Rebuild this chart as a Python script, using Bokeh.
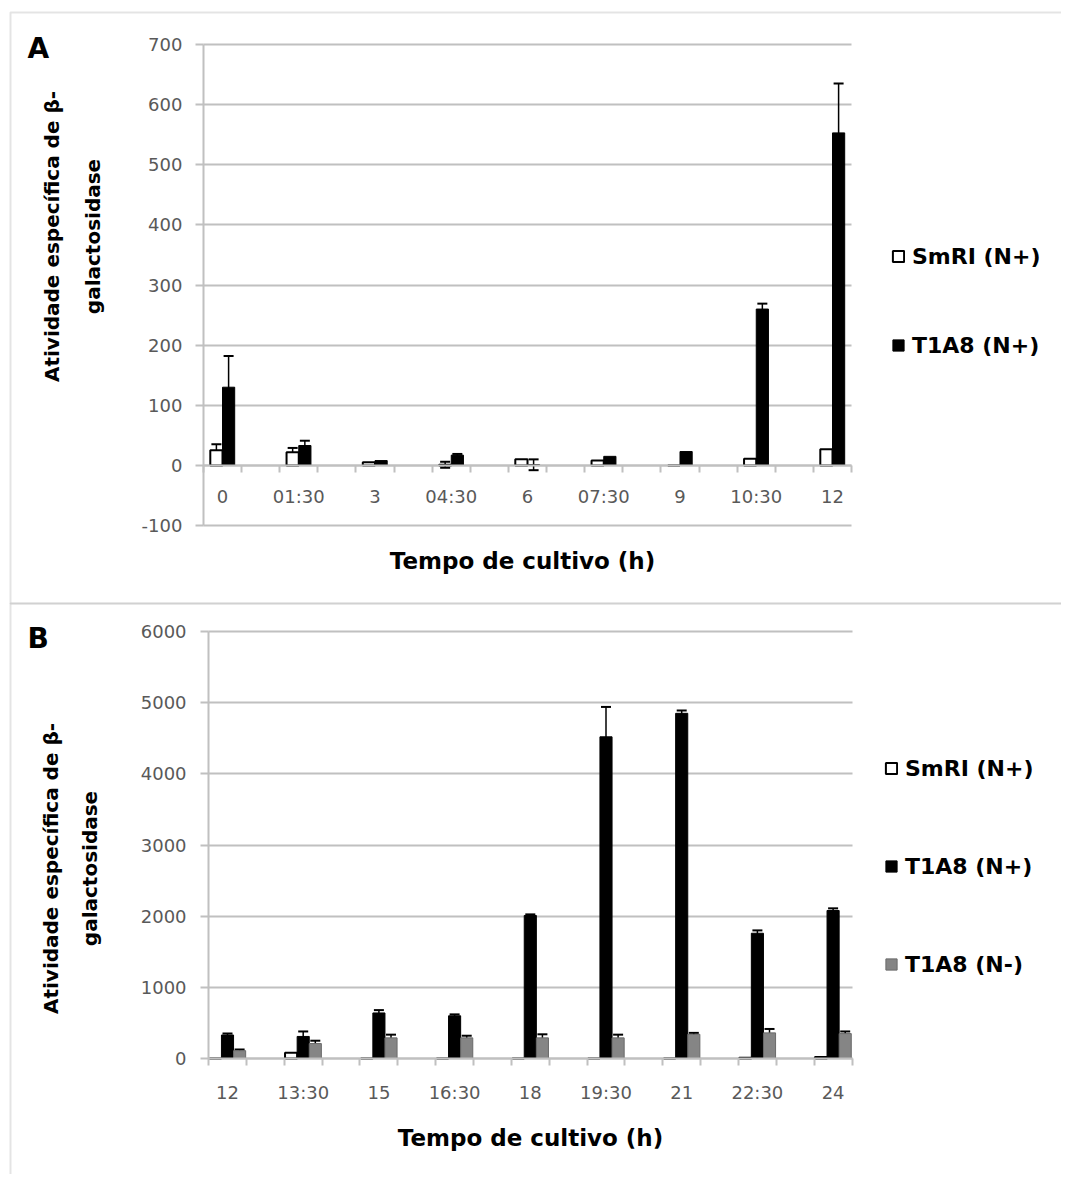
import numpy as np
from bokeh.plotting import figure
from bokeh.models import (FixedTicker, Whisker, TeeHead, ColumnDataSource, Legend,
                          LegendItem, Label, Range1d, LinearAxis, Grid, BoxAnnotation)
from bokeh.embed import file_html
from bokeh.resources import INLINE

# ---------------- data ----------------
cats_a = ["0", "01:30", "3", "04:30", "6", "07:30", "9", "10:30", "12"]
smri_a = [25, 22, 5, 1, 10, 8, 0, 11, 27]
smri_a_err = [10, 7, 0, 5, 0, 0, 0, 0, 0]
t1a8p_a = [130, 33, 8, 17, 1, 15, 23, 260, 553]
t1a8p_a_err = [52, 8, 0, 2, 9, 0, 0, 9, 82]
yticks_a = [-100, 0, 100, 200, 300, 400, 500, 600, 700]

cats_b = ["12", "13:30", "15", "16:30", "18", "19:30", "21", "22:30", "24"]
smri_b = [0, 80, 0, 0, 0, 0, 0, 12, 20]
smri_b_err = [0, 0, 0, 0, 0, 0, 0, 0, 0]
t1a8p_b = [330, 310, 640, 600, 2010, 4520, 4850, 1760, 2080]
t1a8p_b_err = [20, 70, 40, 20, 15, 420, 40, 40, 30]
t1a8m_b = [110, 210, 290, 290, 290, 290, 340, 360, 350]
t1a8m_b_err = [15, 40, 45, 30, 50, 45, 20, 55, 30]
yticks_b = [0, 1000, 2000, 3000, 4000, 5000, 6000]

# ---------------- layout constants (pixels) ----------------
FONT = "DejaVu Sans"
GRID = "#c0c0c0"
TICKC = "#595959"
BORDER = "#a6a6a6"
BARW = 0.16
M = 0                 # observed page offset of the canvas
W, H = 1061, 1174     # canvas = frame
# panel A plot area: category 0 centre at x=222, 76.25 px per category; 700 at y=44, -100 at y=525
AX0, ADX = 222.0, 76.25
AY_TOP, AY_BOT = 44.0, 525.0
# panel B plot area: category 0 centre at x=227, 75.7 px per category; 6000 at y=631, 0 at y=1058
BX0, BDX = 227.0, 75.7
BY_TOP, BY_BOT = 631.0, 1058.0


def xr(x0, dx):
    return Range1d((M - x0) / dx, (M + W - x0) / dx)


def yr(v_top, px_top, v_bot, px_bot):
    ppu = (px_bot - px_top) / (v_top - v_bot)
    zero = px_top + v_top * ppu
    return Range1d((zero - (M + H)) / ppu, (zero - M) / ppu)


p = figure(frame_width=W, frame_height=H, min_border=0,
           x_range=xr(AX0, ADX), y_range=yr(yticks_a[-1], AY_TOP, yticks_a[0], AY_BOT),
           x_axis_type=None, y_axis_type=None,
           output_backend="svg", toolbar_location=None)
p.extra_x_ranges = {"xb": xr(BX0, BDX)}
p.extra_y_ranges = {"yb": yr(yticks_b[-1], BY_TOP, yticks_b[0], BY_BOT)}
p.outline_line_color = None
p.background_fill_color = "white"
p.border_fill_color = "white"


def cy(page_y):
    return M + H - page_y


def cx(page_x):
    return page_x - M


# panel borders
p.add_layout(BoxAnnotation(left=cx(10), right=cx(1100), top=cy(12), bottom=cy(603),
                           left_units="screen", right_units="screen", top_units="screen",
                           bottom_units="screen", fill_color=None, line_color=BORDER, line_width=2))
p.add_layout(BoxAnnotation(left=cx(10), right=cx(1100), top=cy(603), bottom=cy(1250),
                           left_units="screen", right_units="screen", top_units="screen",
                           bottom_units="screen", fill_color=None, line_color=BORDER, line_width=2))


def add_series(vals, errs, offset, fill, line, lw, rx="default", ry="default"):
    x = np.arange(len(vals)) + offset
    src = ColumnDataSource(dict(x=x, top=vals))
    r = p.vbar(x="x", top="top", bottom=0, width=BARW, source=src,
               fill_color=fill, line_color=line, line_width=lw,
               x_range_name=rx, y_range_name=ry)
    v = np.array(vals, dtype=float)
    e = np.array(errs, dtype=float)
    m = e > 0
    if m.any():
        wsrc = ColumnDataSource(dict(x=x[m], upper=(v + e)[m], lower=(v - e)[m]))
        w = Whisker(base="x", upper="upper", lower="lower", source=wsrc,
                    dimension="height", line_color="black", line_width=1.5,
                    x_range_name=rx, y_range_name=ry,
                    upper_head=TeeHead(size=10, line_color="black", line_width=2),
                    lower_head=TeeHead(size=10, line_color="black", line_width=2))
        p.add_layout(w)
    return r


def add_axes(cats, yticks, rx, ry, ystand, xstand):
    n = len(cats)
    g = Grid(dimension=1, ticker=FixedTicker(ticks=yticks), x_range_name=rx, y_range_name=ry,
             cross_bounds=(-0.25, n - 0.75), grid_line_color=GRID, grid_line_width=2)
    p.add_layout(g)
    ya = LinearAxis(x_range_name=rx, y_range_name=ry, fixed_location=-0.25,
                    bounds=(yticks[0], yticks[-1]), ticker=FixedTicker(ticks=yticks))
    ya.major_label_overrides = {t: str(t) for t in yticks}
    ya.axis_line_color = GRID
    ya.axis_line_width = 2
    ya.major_tick_line_color = GRID
    ya.major_tick_line_width = 2
    ya.major_tick_out = 8
    ya.major_tick_in = 0
    ya.minor_tick_line_color = None
    ya.major_label_text_font = FONT
    ya.major_label_text_font_size = "18px"
    ya.major_label_text_color = TICKC
    ya.major_label_standoff = ystand
    p.add_layout(ya, "left")

    xa = LinearAxis(x_range_name=rx, y_range_name=ry, fixed_location=0,
                    bounds=(-0.25, n - 0.75),
                    ticker=FixedTicker(ticks=list(range(n)),
                                       minor_ticks=[k * 0.5 - 0.25 for k in range(2 * n)]))
    xa.major_label_overrides = {i: c for i, c in enumerate(cats)}
    xa.axis_line_color = GRID
    xa.axis_line_width = 2
    xa.major_tick_line_color = None
    xa.major_tick_out = 7
    xa.minor_tick_line_color = GRID
    xa.minor_tick_line_width = 2
    xa.minor_tick_out = 7
    xa.minor_tick_in = 0
    xa.major_label_text_font = FONT
    xa.major_label_text_font_size = "18px"
    xa.major_label_text_color = TICKC
    xa.major_label_standoff = xstand
    p.add_layout(xa, "below")


def label(text, x, y, size, angle=0.0, align="center"):
    p.add_layout(Label(x=cx(x), y=cy(y), x_units="screen", y_units="screen", text=text,
                       angle=angle, text_font=FONT, text_font_style="bold",
                       text_font_size=size, text_color="black",
                       text_align=align, text_baseline="middle"))


def legend(items, x, y, spacing):
    lg = Legend(items=items, location=(cx(x), cy(y)), orientation="vertical", spacing=spacing,
                padding=0, margin=0, border_line_color=None, background_fill_alpha=0,
                label_text_font=FONT, label_text_font_style="bold",
                label_text_font_size="22px", label_text_color="black",
                glyph_width=14, glyph_height=14, label_standoff=7, label_height=26)
    p.add_layout(lg)


# ---------------- panel A ----------------
add_axes(cats_a, yticks_a, "default", "default", 13, 14)
ra1 = add_series(smri_a, smri_a_err, -BARW / 2, "white", "black", 2)
ra2 = add_series(t1a8p_a, t1a8p_a_err, BARW / 2, "black", "black", 1)
label("A", 27, 48, "28px", align="left")
label("Atividade específica de β-", 51, 236, "20px", angle=np.pi / 2)
label("galactosidase", 92, 236, "20px", angle=np.pi / 2)
label("Tempo de cultivo (h)", 522, 560, "23px")
legend([LegendItem(label="SmRI (N+)", renderers=[ra1]),
        LegendItem(label="T1A8 (N+)", renderers=[ra2])], 891, 358, 63)

# ---------------- panel B ----------------
add_axes(cats_b, yticks_b, "xb", "yb", 14, 16)
rb1 = add_series(smri_b, smri_b_err, -BARW, "white", "black", 2, "xb", "yb")
rb2 = add_series(t1a8p_b, t1a8p_b_err, 0, "black", "black", 1, "xb", "yb")
rb3 = add_series(t1a8m_b, t1a8m_b_err, BARW, "#858585", "#6a6a6a", 1, "xb", "yb")
label("B", 27, 638, "28px", align="left")
label("Atividade específica de β-", 50, 868, "20px", angle=np.pi / 2)
label("galactosidase", 89, 868, "20px", angle=np.pi / 2)
label("Tempo de cultivo (h)", 530, 1137, "23px")
legend([LegendItem(label="SmRI (N+)", renderers=[rb1]),
        LegendItem(label="T1A8 (N+)", renderers=[rb2]),
        LegendItem(label="T1A8 (N-)", renderers=[rb3])], 884, 977, 72)

open("out.html", "w").write(file_html(p, INLINE))
